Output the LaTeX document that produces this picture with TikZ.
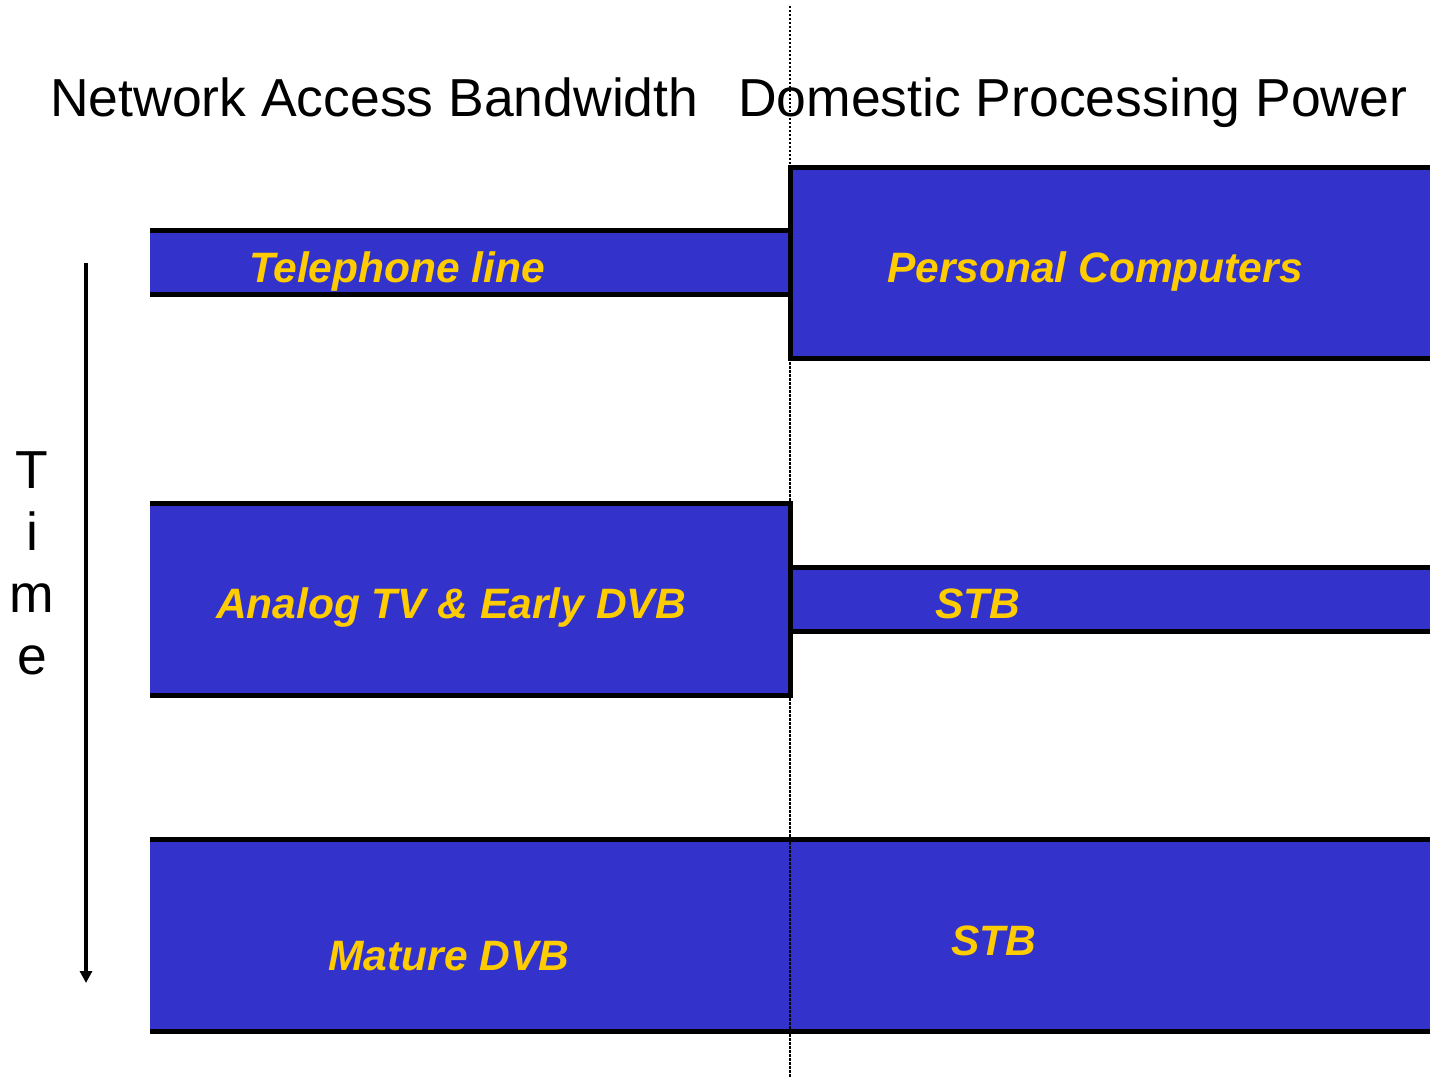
\documentclass[tikz,border=0pt]{standalone}
\usepackage{fontspec}
\setmainfont{Liberation Sans}
\usetikzlibrary{arrows.meta}
\definecolor{bandblue}{HTML}{3333CC}
\definecolor{labelgold}{HTML}{FFCC00}
\begin{document}
\begin{tikzpicture}[x=1pt, y=-1pt,
    band/.style={rectangle, fill=bandblue, inner sep=0, outer sep=0},
    rim/.style={line width=5pt, line join=miter},
    lbl/.style={anchor=base, text=labelgold, font=\fontsize{42.5}{48}\selectfont\bfseries\itshape},
    head/.style={anchor=base west, font=\fontsize{53.5}{62}\selectfont}]
  \useasboundingbox (0,0) rectangle (1430,1078);
  % column titles
  \node[head, inner sep=0] (nab) at (50,117) {Network Access Bandwidth};
  \node[head, inner sep=0] (dpp) at (738,117) {Domestic Processing Power};
  % first row
  \node[band, minimum width=640pt, minimum height=64pt] (tel) at (470,262.5){};
  \node[band, minimum width=640pt, minimum height=191pt] (pc) at (1110,263){};
  \draw[rim](tel.north west) -- (tel.north east);
  \draw[rim](tel.south west) -- (tel.south east);
  \draw[rim](pc.north east) -- (pc.north west) -- (pc.south west) -- (pc.south east);
  \node[lbl] (telt) at (397,282) {Telephone line};
  \node[lbl] (pct) at (1095,282) {Personal Computers};
  % second row
  \node[band, minimum width=640pt, minimum height=192pt] (ana) at (470,599){};
  \node[band, minimum width=640pt, minimum height=64pt] (stb) at (1110,599){};
  \draw[rim](ana.north west) -- (ana.north east) -- (ana.south east) -- (ana.south west);
  \draw[rim](stb.north west) -- (stb.north east);
  \draw[rim](stb.south west) -- (stb.south east);
  \node[lbl] (anat) at (451,618) {Analog TV \& Early DVB};
  \node[lbl] (stbt) at (978,618) {STB};
  % third row
  \node[band, minimum width=1280pt, minimum height=192pt] (mat) at (790,935){};
  \draw[rim](mat.north west) -- (mat.north east);
  \draw[rim](mat.south west) -- (mat.south east);
  \node[lbl] (matt) at (449,970) {Mature DVB};
  \node[lbl] (stbm) at (994,955) {STB};
  % divider
  \coordinate (dtop) at (790,6);
  \coordinate (dbot) at (790,1078);
  \draw[line width=2pt, dash pattern=on 2.5pt off 1.5pt](dtop) -- (dbot);
  % time axis
  \coordinate (t0) at (86,263);
  \coordinate (t1) at (86,983);
  \draw[line width=4pt, -{Triangle[width=12pt, length=12pt]}](t0) -- (t1);
  \node[anchor=base, align=center, inner sep=0, font=\fontsize{53.5}{62}\selectfont] (time) at (32,674) {T\\i\\m\\e};
\end{tikzpicture}
\end{document}
